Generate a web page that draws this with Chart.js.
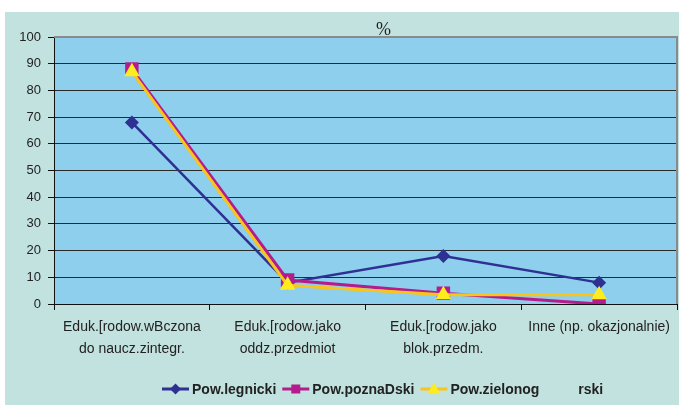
<!DOCTYPE html>
<html>
<head>
<meta charset="utf-8">
<title>%</title>
<script src="https://cdn.jsdelivr.net/npm/chart.js@4/dist/chart.umd.min.js"></script>
<style>
  html, body { margin: 0; padding: 0; background: #ffffff; }
  #wrap { width: 679px; height: 405px; position: relative; }
</style>
</head>
<body>
<div id="wrap"><canvas id="chart" width="679" height="405"></canvas></div>
<script>
// Categories (two-line axis labels)
const categories = [
  ['Eduk.[rodow.wBczona', 'do naucz.zintegr.'],
  ['Eduk.[rodow.jako', 'oddz.przedmiot'],
  ['Eduk.[rodow.jako', 'blok.przedm.'],
  ['Inne (np. okazjonalnie)']
];

// Series names
const seriesNames = ['Pow.legnicki', 'Pow.poznaDski', 'Pow.zielonog          rski'];

// Series values (%)
const legnicki   = [68, 8, 18, 8];
const poznanski  = [88, 9, 4, 0];
const zielonog   = [87, 7, 3.5, 3.5];

// Axis ticks
const yTicks = [0, 10, 20, 30, 40, 50, 60, 70, 80, 90, 100];
const chartTitle = '%';

const BLUE = '#2e3192';
const PINK = '#b41c8e';
const YELLOW_LINE = '#f9c41c';
const YELLOW_FILL = '#ffec1e';

// Panel backgrounds and the plot frame
const backdrop = {
  id: 'backdrop',
  beforeDraw(chart) {
    const { ctx, chartArea: a, width, height } = chart;
    ctx.save();
    ctx.fillStyle = '#ffffff';
    ctx.fillRect(0, 0, width, height);
    ctx.fillStyle = '#c2e2df';
    ctx.fillRect(5, 12, width - 5, height - 12);
    ctx.fillStyle = '#8dcfed';
    ctx.fillRect(a.left, a.top, a.right - a.left, a.bottom - a.top);
    ctx.restore();
  },
  beforeDatasetsDraw(chart) {
    const { ctx, chartArea: a } = chart;
    ctx.save();
    ctx.strokeStyle = '#8a8a8a';
    ctx.lineWidth = 2;
    ctx.beginPath();
    ctx.moveTo(a.left, a.top);
    ctx.lineTo(a.right, a.top);
    ctx.lineTo(a.right, a.bottom);
    ctx.stroke();
    ctx.restore();
  }
};

// Title "%" above the plot
const titleText = {
  id: 'titleText',
  afterDraw(chart) {
    const { ctx, chartArea: a } = chart;
    ctx.save();
    ctx.font = '18px "Liberation Serif", "DejaVu Serif", serif';
    ctx.fillStyle = '#222222';
    ctx.textAlign = 'center';
    ctx.textBaseline = 'alphabetic';
    ctx.fillText(chartTitle, (a.left + a.right) / 2 + 18, 35);
    ctx.restore();
  }
};

function drawMarker(ctx, style, x, y, r, fill) {
  ctx.fillStyle = fill;
  ctx.beginPath();
  if (style === 'rectRot') {
    ctx.moveTo(x, y - r); ctx.lineTo(x + r, y); ctx.lineTo(x, y + r); ctx.lineTo(x - r, y);
  } else if (style === 'rect') {
    ctx.rect(x - r, y - r, 2 * r, 2 * r);
  } else {
    ctx.moveTo(x, y - r * 1.1); ctx.lineTo(x + r, y + r * 0.7); ctx.lineTo(x - r, y + r * 0.7);
  }
  ctx.closePath();
  ctx.fill();
}

// Legend: line sample + marker + bold label, in one row
const lineLegend = {
  id: 'lineLegend',
  afterDraw(chart) {
    const { ctx } = chart;
    const y = 389;
    let x = 162;
    ctx.save();
    ctx.font = 'bold 14px "Liberation Sans", Arial, sans-serif';
    ctx.textBaseline = 'middle';
    ctx.textAlign = 'left';
    chart.data.datasets.forEach(ds => {
      ctx.strokeStyle = ds.borderColor;
      ctx.lineWidth = 3;
      ctx.beginPath();
      ctx.moveTo(x, y);
      ctx.lineTo(x + 27, y);
      ctx.stroke();
      const sizes = { rectRot: 5.5, rect: 4.5, triangle: 6 };
      drawMarker(ctx, ds.pointStyle, x + 13.5, y, sizes[ds.pointStyle], ds.pointBackgroundColor);
      ctx.fillStyle = '#222222';
      ctx.fillText(ds.label, x + 30, y + 1);
      x += 30 + ctx.measureText(ds.label).width + 6;
    });
    ctx.restore();
  }
};

new Chart(document.getElementById('chart'), {
  type: 'line',
  data: {
    labels: categories,
    datasets: [
      {
        label: seriesNames[0], data: legnicki, order: 3,
        borderColor: BLUE, borderWidth: 2.5,
        pointStyle: 'rectRot', pointRadius: 7, pointHoverRadius: 7,
        pointBackgroundColor: BLUE, pointBorderColor: BLUE, pointBorderWidth: 0
      },
      {
        label: seriesNames[1], data: poznanski, order: 2,
        borderColor: PINK, borderWidth: 3,
        pointStyle: 'rect', pointRadius: 9.5, pointHoverRadius: 9.5,
        pointBackgroundColor: PINK, pointBorderColor: PINK, pointBorderWidth: 0
      },
      {
        label: seriesNames[2], data: zielonog, order: 1,
        borderColor: YELLOW_LINE, borderWidth: 3,
        pointStyle: 'triangle', pointRadius: 9, pointHoverRadius: 9,
        pointBackgroundColor: YELLOW_FILL, pointBorderColor: YELLOW_FILL, pointBorderWidth: 0
      }
    ]
  },
  options: {
    responsive: false,
    animation: false,
    devicePixelRatio: 1,
    layout: { autoPadding: false, padding: { left: 0, right: 2, top: 37, bottom: 0 } },
    plugins: {
      legend: { display: false },
      title: { display: false },
      tooltip: { enabled: false }
    },
    elements: { line: { tension: 0 } },
    scales: {
      x: {
        offset: true,
        grid: { offset: true, drawOnChartArea: false, tickLength: 6, tickColor: '#111111', lineWidth: 1 },
        border: { color: '#111111', width: 1 },
        ticks: {
          autoSkip: false, maxRotation: 0, minRotation: 0, padding: 6,
          color: '#222222',
          font: { family: '"Liberation Sans", Arial, sans-serif', size: 14, lineHeight: 1.57 }
        },
        afterFit(scale) {
          scale.height = 101;
          scale.paddingLeft = 0;
          scale.paddingRight = 0;
        }
      },
      y: {
        min: 0, max: 100,
        afterBuildTicks(scale) { scale.ticks = yTicks.map(v => ({ value: v })); },
        grid: {
          color: ctx => (ctx.tick && ctx.tick.value === 100) ? '#8a8a8a' : '#2a2a2a',
          tickColor: '#111111', tickLength: 6, lineWidth: 1
        },
        border: { color: '#111111', width: 1 },
        ticks: {
          padding: 7, color: '#222222',
          font: { family: '"Liberation Sans", Arial, sans-serif', size: 13 }
        },
        afterFit(scale) {
          scale.width = 54;
          scale.paddingTop = 0;
          scale.paddingBottom = 0;
        }
      }
    }
  },
  plugins: [backdrop, titleText, lineLegend]
});
</script>
</body>
</html>
